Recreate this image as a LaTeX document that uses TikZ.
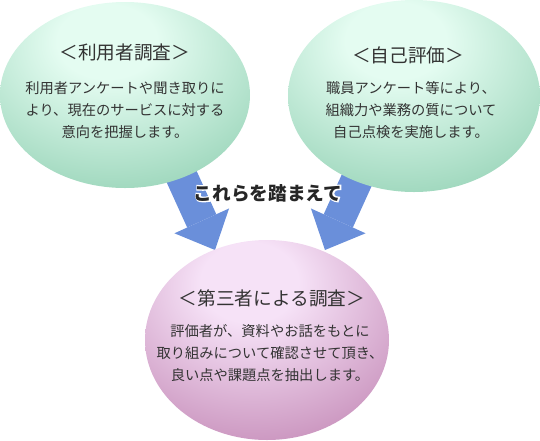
\documentclass[tikz,border=0pt]{standalone}
\usepackage{fontspec}
\setmainfont{Noto Sans CJK JP}
\newfontfamily\halofont{Noto Sans CJK JP}[BoldFeatures={FakeBold=14}]
\usetikzlibrary{arrows.meta,shapes.geometric}
\definecolor{mintin}{HTML}{E4FCF1}
\definecolor{mintout}{HTML}{7CC5A3}
\definecolor{pinkin}{HTML}{F6E2F7}
\definecolor{pinkout}{HTML}{B56FA3}
\definecolor{arrblue}{HTML}{6A8FDA}
\definecolor{txtgray}{HTML}{333333}
\pgfdeclareradialshading{mintball}{\pgfpoint{-4bp}{16bp}}{color(0bp)=(mintin); color(10bp)=(mintin); color(50bp)=(mintout); color(100bp)=(mintout)}
\pgfdeclareradialshading{pinkball}{\pgfpoint{-4bp}{16bp}}{color(0bp)=(pinkin); color(10bp)=(pinkin); color(50bp)=(pinkout); color(100bp)=(pinkout)}
\begin{document}
\begin{tikzpicture}[
  x=0.75pt,y=-0.75pt,
  blob/.style={ellipse,inner sep=0pt,draw=none,shade},
  ttl/.style={font=\fontsize{14}{16}\selectfont,text=txtgray},
  body/.style={align=center,font=\fontsize{10.7}{16.2}\selectfont,text=txtgray},
  lead/.style={font=\fontsize{14}{16}\selectfont\bfseries},
  arr/.style={draw=arrblue,line width=24pt,-{Triangle[length=24pt,width=45pt,line width=0pt]}}
]
\useasboundingbox (0,0) rectangle (540,440);
% block arrows behind the ellipses
\coordinate (ltail) at (164.5,139);
\coordinate (ltip) at (215,250);
\coordinate (rtail) at (375.5,139);
\coordinate (rtip) at (325,250);
\draw[arr] (ltail) -- (ltip);
\draw[arr] (rtail) -- (rtip);
% ellipses
\node[blob,shading=mintball,minimum width=187.5pt,minimum height=139.5pt] (user) at (125,95) {};
\node[blob,shading=mintball,minimum width=189pt,minimum height=144pt] (self) at (414,96) {};
\node[blob,shading=pinkball,minimum width=183pt,minimum height=150pt] (third) at (267,340) {};
% texts
\node[ttl] (usert) at (125,52) {＜利用者調査＞};
\node[body] (userb) at (125,110) {利用者アンケートや聞き取りに\\より、現在のサービスに対する\\意向を把握します。};
\node[ttl] (selft) at (408,55) {＜自己評価＞};
\node[body] (selfb) at (411,110) {職員アンケート等により、\\組織力や業務の質について\\自己点検を実施します。};
\node[ttl] (thirdt) at (272,298) {＜第三者による調査＞};
\node[body] (thirdb) at (270,353) {評価者が、資料やお話をもとに\\取り組みについて確認させて頂き、\\良い点や課題点を抽出します。};
% white halo behind the bold line
\node[lead,text=black!85] (leadt) at (268,193)
  {\rlap{\color{white}\halofont\bfseries これらを踏まえて}これらを踏まえて};
\end{tikzpicture}
\end{document}
